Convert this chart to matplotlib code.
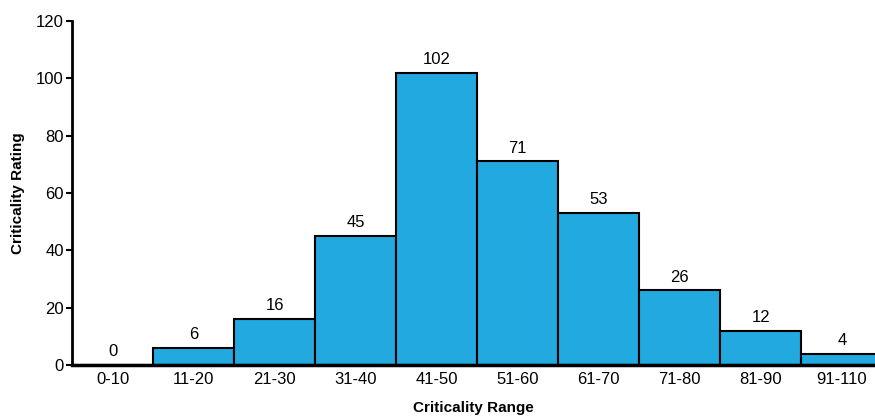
import matplotlib
matplotlib.use('Agg')
import matplotlib.pyplot as plt

ranges = ['0-10', '11-20', '21-30', '31-40', '41-50', '51-60', '61-70', '71-80', '81-90', '91-110']
counts = [0, 6, 16, 45, 102, 71, 53, 26, 12, 4]

plt.rcParams['font.family'] = ['Liberation Sans', 'DejaVu Sans']

fig = plt.figure(figsize=(8.75, 4.17), dpi=100)
ax = fig.add_axes([0.0823, 0.1247, 0.9177, 0.8249])

x = range(len(ranges))
ax.bar(x, counts, width=1.0, color='#22A9DF', edgecolor='black', linewidth=1.5)
for i, v in zip(x, counts):
    ax.text(i, v + 2, str(v), ha='center', va='bottom', fontsize=12)

ax.set_xlim(-0.5, 9.41)
ax.set_ylim(0, 120)
ax.set_yticks(range(0, 121, 20))
ax.set_xticks(list(x))
ax.set_xticklabels(ranges, fontsize=12)
ax.tick_params(axis='y', labelsize=12, length=4, width=1.5, direction='out', pad=2)
ax.tick_params(axis='x', length=0, pad=5)
for s in ['top', 'right']:
    ax.spines[s].set_visible(False)
ax.spines['left'].set_linewidth(2)
ax.spines['bottom'].set_linewidth(2.5)

ax.set_ylabel('Criticality Rating', fontsize=11, fontweight='bold', labelpad=8)
ax.set_xlabel('Criticality Range', fontsize=11, fontweight='bold', labelpad=10)

fig.savefig('out.png', dpi=100)
